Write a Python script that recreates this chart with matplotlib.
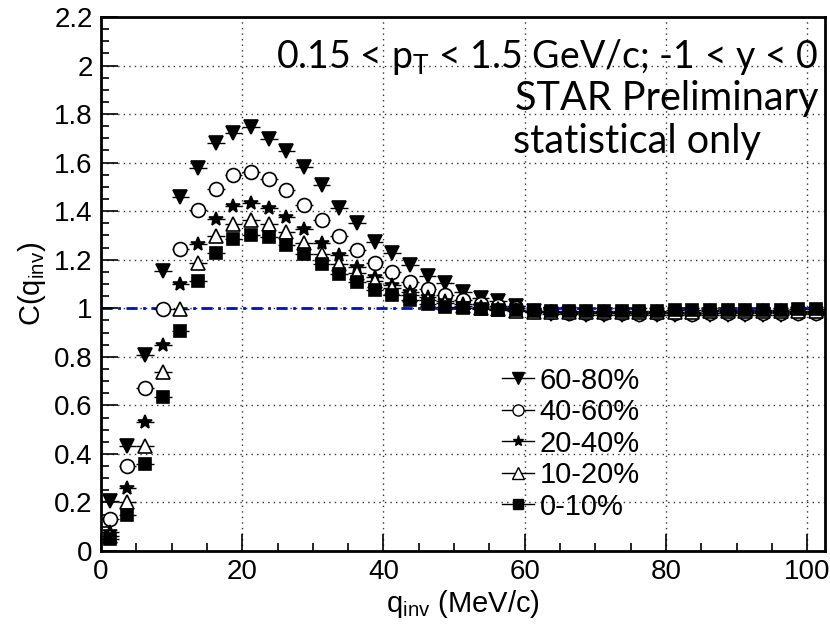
# STAR preliminary correlation function C(q_inv) vs centrality

import numpy as np
import matplotlib.pyplot as plt
from matplotlib.lines import Line2D
from matplotlib.ticker import MultipleLocator

# data (bin centres, 2.5 MeV/c bins)
q_inv = np.arange(41) * 2.5 + 1.25

c_60_80 = [0.207, 0.434, 0.808, 1.152, 1.457, 1.578, 1.681, 1.722, 1.746, 1.699,
           1.649, 1.582, 1.509, 1.415, 1.350, 1.274, 1.226, 1.179, 1.134, 1.104,
           1.067, 1.044, 1.030, 1.008, 0.988, 0.978, 0.975, 0.974, 0.973, 0.972,
           0.972, 0.973, 0.972, 0.973, 0.972, 0.973, 0.974, 0.973, 0.974, 0.975,
           0.975]
c_40_60 = [0.132, 0.352, 0.673, 0.998, 1.245, 1.403, 1.491, 1.550, 1.560, 1.533,
           1.486, 1.427, 1.362, 1.299, 1.241, 1.188, 1.150, 1.107, 1.078, 1.056,
           1.035, 1.019, 1.008, 1.000, 0.990, 0.984, 0.981, 0.980, 0.979, 0.979,
           0.978, 0.979, 0.979, 0.978, 0.979, 0.980, 0.980, 0.980, 0.981, 0.981,
           0.982]
c_20_40 = [0.080, 0.259, 0.533, 0.850, 1.101, 1.266, 1.368, 1.420, 1.434, 1.415,
           1.376, 1.327, 1.269, 1.221, 1.172, 1.128, 1.094, 1.066, 1.045, 1.030,
           1.016, 1.006, 0.998, 0.992, 0.986, 0.983, 0.982, 0.981, 0.981, 0.980,
           0.981, 0.981, 0.982, 0.982, 0.982, 0.983, 0.983, 0.984, 0.984, 0.985,
           0.985]
c_10_20 = [0.060, 0.200, 0.434, 0.739, 0.998, 1.188, 1.296, 1.346, 1.364, 1.346,
           1.315, 1.267, 1.223, 1.182, 1.145, 1.112, 1.082, 1.056, 1.036, 1.021,
           1.010, 1.000, 0.995, 0.990, 0.986, 0.985, 0.984, 0.984, 0.984, 0.985,
           0.985, 0.985, 0.986, 0.986, 0.987, 0.987, 0.988, 0.988, 0.989, 0.989,
           0.990]
c_0_10 = [0.048, 0.148, 0.359, 0.634, 0.908, 1.112, 1.227, 1.287, 1.300, 1.292,
          1.262, 1.224, 1.183, 1.140, 1.107, 1.076, 1.055, 1.036, 1.016, 1.007,
          1.000, 0.996, 0.992, 0.992, 0.990, 0.988, 0.987, 0.987, 0.988, 0.988,
          0.989, 0.990, 0.991, 0.991, 0.992, 0.992, 0.993, 0.994, 0.994, 0.995,
          0.995]

labels = ['60-80%', '40-60%', '20-40%', '10-20%', '0-10%']
series = [c_60_80, c_40_60, c_20_40, c_10_20, c_0_10]
markers = ['v', 'o', '*', '^', 's']
msizes = [10, 10, 10, 10, 9]
faces = ['black', 'white', 'black', 'white', 'black']

plt.rcParams['font.family'] = ['Liberation Sans', 'DejaVu Sans']

fig = plt.figure(figsize=(8.3, 6.34), dpi=100)
ax = fig.add_axes([0.1217, 0.1309, 0.872, 0.8423])

# reference line at 1
ax.axhline(1.0, color='#0000ff', lw=2, ls=(0, (4, 2, 1, 2)), zorder=1)

for vals, mk, ms, fc in zip(series, markers, msizes, faces):
    ax.errorbar(q_inv, vals, xerr=1.25, fmt=mk, ms=ms, mfc=fc, mec='black',
                mew=1.2, ecolor='black', elinewidth=1, capsize=0, zorder=3)

ax.set_xlim(0, 102.5)
ax.set_ylim(0, 2.2)
ax.xaxis.set_major_locator(MultipleLocator(20))
ax.xaxis.set_minor_locator(MultipleLocator(5))
ax.yaxis.set_major_locator(MultipleLocator(0.2))
ax.yaxis.set_minor_locator(MultipleLocator(0.05))
ax.set_yticks(np.arange(0, 2.21, 0.2))
ax.set_yticklabels(['0', '0.2', '0.4', '0.6', '0.8', '1', '1.2', '1.4',
                    '1.6', '1.8', '2', '2.2'])
ax.tick_params(which='both', direction='in', top=False, right=False,
               labelsize=20, width=1.2)
ax.tick_params(which='major', length=12, pad=6)
ax.tick_params(which='minor', length=6)
ax.grid(True, which='major', ls=(0, (1, 3)), color='#333333', lw=1)
for sp in ax.spines.values():
    sp.set_linewidth(2)

ax.set_xlabel(r'q$_{\mathregular{inv}}$ (MeV/c)', fontsize=21, labelpad=2)
ax.set_ylabel(r'C(q$_{\mathregular{inv}}$)', fontsize=21, labelpad=4)

# legend
handles = [Line2D([], [], color='black', lw=1, marker=mk, ms=ms * 0.8,
                  mfc=fc, mec='black') for mk, ms, fc in zip(markers, msizes, faces)]
ax.legend(handles, labels, loc='upper left', bbox_to_anchor=(487 / 830, 1 - 352 / 634),
          bbox_transform=fig.transFigure, frameon=False, fontsize=21,
          handlelength=1.1, handletextpad=0.2, labelspacing=0.12, borderpad=0)

# annotations
tfont = ['Lato', 'DejaVu Sans']
fig.text(818 / 830, 1 - 68 / 634, r'0.15 < p$_{\mathregular{T}}$ < 1.5 GeV/c; -1 < y < 0',
         ha='right', va='baseline', fontsize=27, family=tfont)
fig.text(818 / 830, 1 - 110 / 634, 'STAR Preliminary', ha='right', va='baseline',
         fontsize=28.5, family=tfont)
fig.text(513 / 830, 1 - 153 / 634, 'statistical only', ha='left', va='baseline',
         fontsize=28.5, family=tfont)

fig.savefig('out.png', dpi=100)
